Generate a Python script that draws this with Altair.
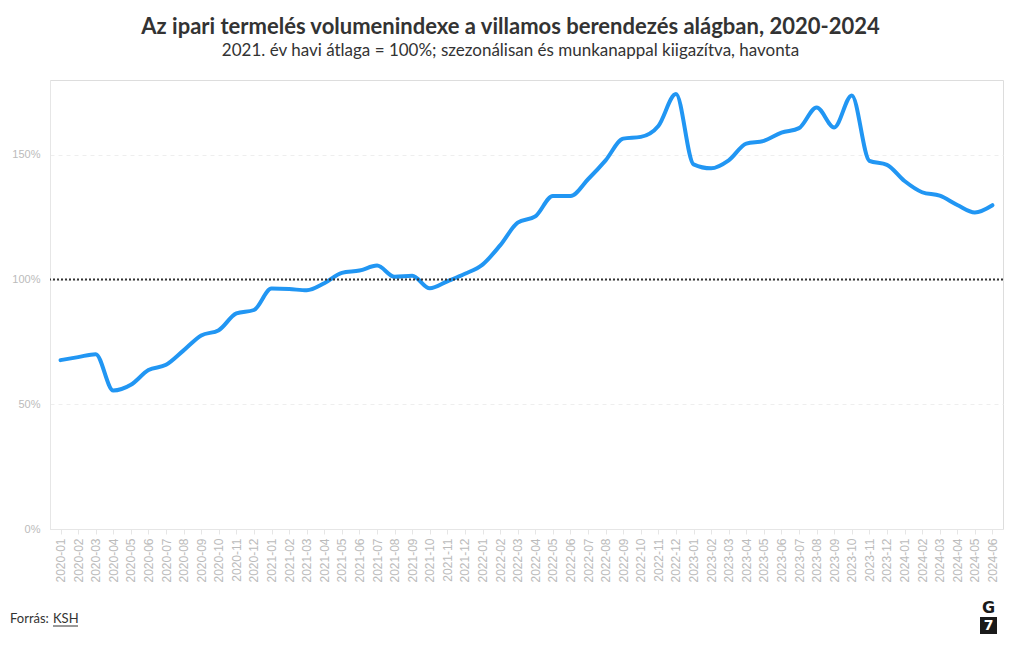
import altair as alt
import pandas as pd

months = [
    "2020-01","2020-02","2020-03","2020-04","2020-05","2020-06","2020-07","2020-08","2020-09","2020-10","2020-11","2020-12",
    "2021-01","2021-02","2021-03","2021-04","2021-05","2021-06","2021-07","2021-08","2021-09","2021-10","2021-11","2021-12",
    "2022-01","2022-02","2022-03","2022-04","2022-05","2022-06","2022-07","2022-08","2022-09","2022-10","2022-11","2022-12",
    "2023-01","2023-02","2023-03","2023-04","2023-05","2023-06","2023-07","2023-08","2023-09","2023-10","2023-11","2023-12",
    "2024-01","2024-02","2024-03","2024-04","2024-05","2024-06",
]
values = [
    67.7, 68.9, 70.1, 55.5, 57.8, 63.7, 65.8, 71.6, 77.6, 79.7, 86.4, 87.8,
    96.4, 96.2, 95.7, 98.5, 102.7, 103.6, 105.6, 101.1, 101.5, 96.5, 99.3, 102.3,
    106.0, 113.7, 122.8, 125.3, 133.5, 133.5, 140.2, 147.8, 156.5, 157.2, 161.6, 174.4,
    146.2, 144.6, 147.8, 154.5, 155.6, 158.9, 160.7, 169.0, 161.0, 173.8, 147.6, 146.0,
    139.5, 135.0, 133.6, 129.9, 126.9, 129.8,
]
y_ticks = [0, 50, 100, 150]
reference_level = [100]

title_text = "Az ipari termelés volumenindexe a villamos berendezés alágban, 2020-2024"
subtitle_text = "2021. év havi átlaga = 100%; szezonálisan és munkanappal kiigazítva, havonta"
source_label = "Forrás:"
source_name = "KSH"

df = pd.DataFrame({"month": months, "value": values})

W, H = 953, 449
LABEL_FONT = "Liberation Sans"
TEXT_FONT = "Lato"

x_enc = alt.X(
    "month:O",
    sort=months,
    scale=alt.Scale(type="point", padding=0.6),
    axis=alt.Axis(
        title=None, labelAngle=-90, labelFont=LABEL_FONT, labelFontSize=12,
        labelColor="#bbbbbb", tickColor="#e6e6e6", domainColor="#e6e6e6",
        tickSize=5, labelPadding=4, grid=False,
    ),
)
y_enc = alt.Y(
    "value:Q",
    scale=alt.Scale(domain=[0, 180], nice=False),
    axis=alt.Axis(
        title=None, values=y_ticks, format=".0f", labelExpr="datum.label + '%'",
        labelFont=LABEL_FONT, labelFontSize=11, labelColor="#bbbbbb",
        domainColor="#e6e6e6", ticks=False, labelPadding=10,
        gridColor="#eeeeee", gridDash=[4, 4], minExtent=42, maxExtent=42,
    ),
)

line = alt.Chart(df).mark_line(
    color="#2196f3", strokeWidth=4, interpolate="monotone", strokeCap="round"
).encode(x=x_enc, y=y_enc)

rule = alt.Chart(pd.DataFrame({"ref": reference_level})).mark_rule(
    color="#333333", strokeWidth=2, strokeDash=[2, 2]
).encode(y=alt.Y("ref:Q"))

one = alt.Data(values=[{}])

src = alt.Chart(one).mark_text(
    text=source_label, align="left", baseline="middle", font=TEXT_FONT, fontSize=13, color="#333333"
).encode(x=alt.value(-40), y=alt.value(539))
ksh = alt.Chart(one).mark_text(
    text=source_name, align="left", baseline="middle", font=TEXT_FONT, fontSize=13, color="#333333"
).encode(x=alt.value(3), y=alt.value(539))
ksh_line = alt.Chart(one).mark_rule(color="#333333", strokeWidth=1).encode(
    x=alt.value(3), x2=alt.value(28), y=alt.value(546)
)
logo_g = alt.Chart(one).mark_text(
    text="G", align="center", baseline="middle", font="DejaVu Sans", fontWeight="bold",
    fontSize=16, color="#1a1a1a"
).encode(x=alt.value(938.5), y=alt.value(528))
logo_box = alt.Chart(one).mark_rect(color="#1a1a1a").encode(
    x=alt.value(930), x2=alt.value(947), y=alt.value(537), y2=alt.value(554)
)
logo_7 = alt.Chart(one).mark_text(
    text="7", align="center", baseline="middle", font="DejaVu Sans", fontWeight="bold",
    fontSize=14, color="white"
).encode(x=alt.value(938.5), y=alt.value(546))

chart = alt.layer(line, rule, src, ksh, ksh_line, logo_g, logo_box, logo_7).properties(
    width=W, height=H,
    padding={"top": 8, "left": 0, "right": 0, "bottom": 0},
    title=alt.TitleParams(
        text=title_text, subtitle=subtitle_text, anchor="middle", dx=-16,
        font=TEXT_FONT, fontSize=22, fontWeight="bold", color="#333333",
        subtitleFont=TEXT_FONT, subtitleFontSize=17, subtitleColor="#333333",
        subtitlePadding=4, offset=20,
    ),
).configure_view(stroke=None).configure(background="white")

chart.save("out.html", embed_options={"renderer": "svg", "actions": False})
